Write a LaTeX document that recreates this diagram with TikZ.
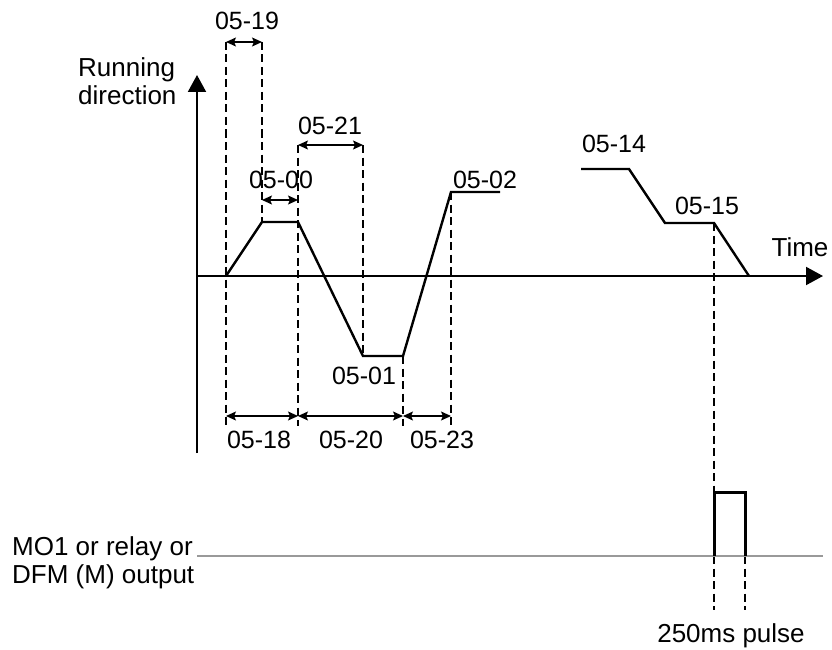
\documentclass[tikz,border=0pt]{standalone}
\usepackage{fontspec}
\setmainfont{Liberation Sans}
\usetikzlibrary{arrows.meta}

\begin{document}
\begin{tikzpicture}[x=1pt,y=-1pt,
  lbl/.style={font=\fontsize{25}{28}\selectfont, inner sep=0pt},
  txt/.style={font=\fontsize{26}{28}\selectfont, inner sep=0pt, align=left},
  axis/.style={line width=2pt, -{Triangle[length=17pt,width=18pt]}},
  wave/.style={line width=2.4pt},
  guide/.style={line width=1.8pt, dash pattern=on 8pt off 4.5pt},
  span/.style={line width=1.2pt, {Stealth[length=10pt,width=9pt,inset=2pt]}-{Stealth[length=10pt,width=9pt,inset=2pt]}},
  pulse/.style={line width=3pt},
  level/.style={line width=1.6pt, draw=black!40}]
\useasboundingbox (0,0) rectangle (832,650);

\coordinate (ybot) at (197,453);
\coordinate (ytop) at (197,75);
\coordinate (xbeg) at (197,276);
\coordinate (xend) at (823,276);

\coordinate (a0) at (226,276);
\coordinate (a1) at (262,222);
\coordinate (a2) at (298,222);
\coordinate (a3) at (363,356);
\coordinate (a4) at (403,356);
\coordinate (a5) at (451,192);
\coordinate (a6) at (500,192);
\coordinate (b0) at (581,169);
\coordinate (b1) at (629,169);
\coordinate (b2) at (665,223);
\coordinate (b3) at (714,223);
\coordinate (b4) at (749,276);

\coordinate (g1t) at (226,42);
\coordinate (g1b) at (226,426);
\coordinate (g2t) at (262,42);
\coordinate (g3t) at (298,145);
\coordinate (g3b) at (298,426);
\coordinate (g4t) at (363,145);
\coordinate (g5b) at (403,426);
\coordinate (g6b) at (451,426);
\coordinate (s1) at (262,200);
\coordinate (s2) at (298,200);
\coordinate (d0) at (226,416);
\coordinate (d1) at (298,416);
\coordinate (d2) at (403,416);
\coordinate (d3) at (451,416);

\coordinate (m0) at (197,556);
\coordinate (m1) at (823,556);
\coordinate (p0) at (714,492);
\coordinate (p1) at (745,492);
\coordinate (q0) at (714,556);
\coordinate (q1) at (745,556);
\coordinate (r0) at (714,610);
\coordinate (r1) at (745,610);

\node[txt, anchor=base west] (rundir) at (78,105) {Running\\direction};
\node[txt] (time) at (800,247) {Time};
\node[lbl] (l0519) at (247,21) {05-19};
\node[lbl] (l0521) at (330,126) {05-21};
\node[lbl] (l0500) at (281,180) {05-00};
\node[lbl] (l0502) at (485,180) {05-02};
\node[lbl] (l0514) at (614,144) {05-14};
\node[lbl] (l0515) at (707,206) {05-15};
\node[lbl] (l0501) at (364,376) {05-01};
\node[lbl] (l0518) at (259,440) {05-18};
\node[lbl] (l0520) at (351,440) {05-20};
\node[lbl] (l0523) at (442,440) {05-23};
\node[txt, anchor=base west] (mout) at (12,583) {MO1 or relay or\\DFM (M) output};
\node[txt, anchor=base] (plen) at (731,642) {250ms pulse};

\draw[axis] (ybot) -- (ytop);
\draw[axis] (xbeg) -- (xend);

\draw[guide] (g1t) -- (g1b);
\draw[guide] (g2t) -- (a1);
\draw[guide] (g3t) -- (g3b);
\draw[guide] (g4t) -- (a3);
\draw[guide] (a4) -- (g5b);
\draw[guide] (a5) -- (g6b);
\draw[guide] (b3) -- (p0);
\draw[guide] (q0) -- (r0);
\draw[guide] (q1) -- (r1);

\draw[span] (g1t) -- (g2t);
\draw[span] (g3t) -- (g4t);
\draw[span] (s1) -- (s2);
\draw[span] (d0) -- (d1);
\draw[span] (d1) -- (d2);
\draw[span] (d2) -- (d3);

\draw[wave] (a0) -- (a1) -- (a2) -- (a3) -- (a4) -- (a5) -- (a6);
\draw[wave] (b0) -- (b1) -- (b2) -- (b3) -- (b4);

\draw[level] (m0) -- (m1);
\draw[pulse] (q0) -- (p0) -- (p1) -- (q1);
\end{tikzpicture}
\end{document}
